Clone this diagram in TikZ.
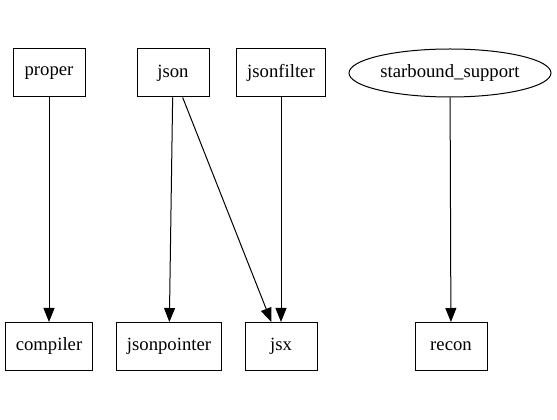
\documentclass[tikz,border=0pt]{standalone}
\usepackage{fontspec}
\setmainfont{Liberation Serif}
\usetikzlibrary{arrows.meta,shapes.geometric,positioning}

\tikzset{
	pkg/.style={draw, rectangle, line width=1pt, minimum width=72pt, minimum height=48pt, inner xsep=10.6pt, font=\fontsize{18.7}{22}\selectfont},
	pkgell/.style={draw, ellipse, line width=1pt, minimum width=202pt, minimum height=48pt, inner sep=0pt, font=\fontsize{18.7}{22}\selectfont},
	dep/.style={-{Triangle[length=14pt,width=11pt]}, line width=1pt},
}

\begin{document}
\begin{tikzpicture}[x=1pt,y=1pt]
	\useasboundingbox (0,0) rectangle (557,420);
	% top row
	\node[pkg] (proper) at (49,347) {proper};
	\node[pkg] (json) at (173,347) {json};
	\node[pkg] (jsonfilter) at (281,347) {jsonfilter};
	\node[pkgell] (starbound) at (450,347) {starbound\_support};
	% bottom row
	\node[pkg] (compiler) at (49,73.5) {compiler};
	\node[pkg] (jsonpointer) at (169,73.5) {jsonpointer};
	\node[pkg] (jsx) at (281,73.5) {jsx};
	\node[pkg] (recon) at (451,73.5) {recon};
	%
	\draw[dep] (proper) -- (compiler);
	\draw[dep] (json) -- (jsonpointer);
	\draw[dep] (json) -- (jsx);
	\draw[dep] (jsonfilter) -- (jsx);
	\draw[dep] (starbound) -- (recon);
\end{tikzpicture}
\end{document}
